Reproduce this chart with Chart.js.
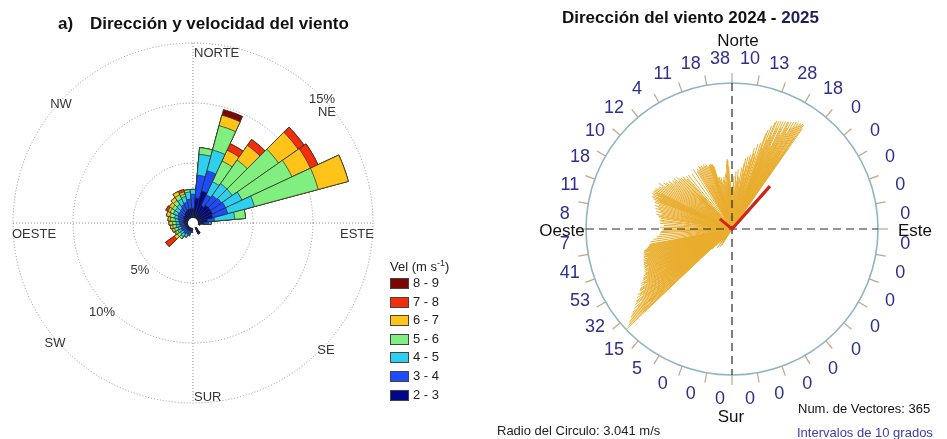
<!DOCTYPE html>
<html>
<head>
<meta charset="utf-8">
<script src="https://cdn.jsdelivr.net/npm/chart.js@4.4.1/dist/chart.umd.min.js"></script>
<style>
  body { margin: 0; background: #fff; font-family: "Liberation Sans", Arial, sans-serif; }
  #wrap { position: relative; width: 947px; height: 439px; overflow: hidden; }
  canvas { position: absolute; }
  #roseCanvas { left: 0; top: 0; }
  #vecCanvas { left: 475px; top: 0; }
  .txt { position: absolute; white-space: nowrap; line-height: 20px; }
  .ttl { font-weight: bold; font-size: 17px; color: #111; }
  .small { font-size: 13px; line-height: 15px; color: #222; }
  #legend { position: absolute; left: 390px; top: 258px; font-size: 13px; color: #222; }
  #legend .row { position: absolute; left: 0; white-space: nowrap; }
  #legend .box { position: absolute; left: 0; width: 17px; height: 9px; border: 1px solid #444; }
  #legend .lab { position: absolute; left: 23px; top: -3px; }
</style>
</head>
<body>
<div id="wrap">
  <canvas id="roseCanvas" width="475" height="439"></canvas>
  <canvas id="vecCanvas" width="472" height="439"></canvas>

  <div class="txt ttl" style="left:58px; top:14px;">a)</div>
  <div class="txt ttl" style="left:90px; top:14px;">Dirección y velocidad del viento</div>
  <div class="txt ttl" style="left:562px; top:8px;">Dirección del viento 2024 - <span style="color:#1d1d5e">2025</span></div>

  <div id="legend"><div style="position:absolute; left:0; top:0; white-space:nowrap;">Vel (m s<sup style="font-size:9px">-1</sup>)</div></div>

  <div class="txt small" style="left:497px; top:423px;">Radio del Circulo: 3.041 m/s</div>
  <div class="txt small" style="left:798px; top:401px; color:#111;">Num. de Vectores: 365</div>
  <div class="txt small" style="left:797px; top:425px; color:#3b3bab;">Intervalos de 10 grados</div>
</div>

<script>
// ---------- left: wind rose (frequency % by direction and speed class) ----------
const sectorAngles = [0, 10, 20, 30, 40, 50, 60, 70, 80, 90, 100, 110, 120, 130, 140, 150, 160, 170,
                      180, 190, 200, 210, 220, 230, 240, 250, 260, 270, 280, 290, 300, 310, 320, 330, 340, 350];
const speedClasses = ['2 - 3', '3 - 4', '4 - 5', '5 - 6', '6 - 7', '7 - 8', '8 - 9'];
const classColors = ['#00078a', '#1e4bff', '#2fcff0', '#80ef80', '#ffc31a', '#f42d0c', '#7c0600'];

const freq23 = [1.2, 2.1, 2.75, 1.6, 1.8, 1.8, 1.8, 1.7, 1.2, 0.9, 0.6, 0.3, 0.3, 0.3, 0.3, 1.0, 0.3, 0.3,
                0.3, 0.6, 0.7, 0.7, 0.7, 0.7, 0.7, 0.6, 0.7, 0.7, 0.8, 0.8, 0.9, 0.9, 1.0, 1.1, 1.2, 1.2];
const freq34 = [1.2, 1.9, 1.75, 1.0, 1.0, 1.1, 1.2, 1.3, 0.6, 0.4, 0, 0, 0, 0, 0, 0, 0, 0,
                0, 0.2, 0.3, 0.3, 0.4, 0.3, 0.4, 0.4, 0.4, 0.4, 0.4, 0.5, 0.5, 0.5, 0.5, 0.6, 0.6, 0.8];
const freq45 = [0.4, 1.75, 1.8, 1.2, 1.2, 1.1, 1.5, 2.3, 1.7, 0.2, 0, 0, 0, 0, 0, 0, 0, 0,
                0, 0, 0.1, 0.3, 0.3, 0.3, 0.3, 0.3, 0.3, 0.3, 0.3, 0.3, 0.4, 0.4, 0.4, 0.5, 0.5, 0.6];
const freq56 = [0, 0.55, 2.1, 1.9, 2.4, 4.7, 4.6, 5.5, 0.9, 0, 0, 0, 0, 0, 0, 0, 0, 0,
                0, 0, 0, 0, 0.2, 0.3, 0.2, 0.3, 0.3, 0.3, 0.4, 0.4, 0.3, 0.3, 0.4, 0.4, 0.2, 0.2];
const freq67 = [0, 0, 0.9, 1.0, 1.5, 2.0, 1.7, 2.6, 0, 0, 0, 0, 0, 0, 0, 0, 0, 0,
                0, 0, 0, 0, 0, 0.3, 0.1, 0.2, 0.2, 0.3, 0.2, 0.3, 0.2, 0.3, 0.3, 0.3, 0.2, 0];
const freq78 = [0, 0, 0, 0.6, 0.6, 0.6, 0.7, 0, 0, 0, 0, 0, 0, 0, 0, 0, 0, 0,
                0, 0, 0, 0, 0, 0.9, 0, 0, 0, 0, 0, 0, 0.2, 0, 0, 0, 0.2, 0];
const freq89 = [0, 0, 0.5, 0, 0, 0, 0, 0, 0, 0, 0, 0, 0, 0, 0, 0, 0, 0,
                0, 0, 0, 0, 0, 0, 0, 0, 0, 0, 0, 0, 0, 0, 0, 0, 0, 0];
const freqByClass = [freq23, freq34, freq45, freq56, freq67, freq78, freq89];
const ringLabels = ['5%', '10%', '15%'];

// ---------- right: daily wind vectors [direction deg, speed m/s] ----------
const circleRadius = 3.041;
const sectorCounts = [10, 13, 28, 18, 0, 0, 0, 0, 0, 0, 0, 0, 0, 0, 0, 0, 0, 0,
                      0, 0, 0, 5, 15, 32, 53, 41, 7, 8, 11, 18, 10, 12, 4, 11, 18, 38];
const vecNE = [[1,0.9],[2,1.1],[3,0.8],[4,1.2],[5,1.0],[6,1.25],[7,1.1],[8,1.07],[9,1.3],[9.5,0.9],
  [10.5,1.4],[11,1.5],[12,1.2],[12.5,1.55],[13,1.35],[14,1.6],[15,1.5],[15.5,1.75],[16,1.65],[17,1.85],[17.5,1.6],[18.5,1.9],[19.5,2.1],
  [20,2.2],[20.5,1.8],[21,2.3],[21.5,2.0],[22,2.4],[22.5,2.44],[23,2.1],[23.5,2.45],[24,2.3],[24.5,2.47],[25,1.9],[25.5,2.48],[26,2.35],[26.5,2.5],
  [27,2.2],[27.5,2.51],[28,2.53],[28.5,2.4],[29,2.55],[29.5,2.3],[20.8,1.5],[22.8,1.7],[24.2,1.6],[26.2,1.8],[27.8,2.0],[29.2,1.7],[21.7,1.2],[25.3,1.4],
  [30,2.57],[30.5,2.45],[31,2.6],[31.5,2.5],[32,2.61],[32.5,2.55],[33,2.62],[33.5,2.6],[34,2.64],[34.5,2.63],[35,2.55],
  [30.2,2.1],[31.2,1.9],[32.2,2.2],[33.2,1.8],[34.2,2.3],[34.8,2.0],[33.8,1.5]];
const vecN = [[340,1.38],[340.5,1.42],[341,1.4],[341.5,1.43],[342,1.42],[342.5,1.4],[343,1.41],[343.5,1.38],[344,1.35],[345,1.1],
  [346,1.12],[347,1.05],[348,1.1],[349,0.95],[344.5,0.9],[346.5,0.7],[348.5,0.6],[340.8,1.0],
  [350,1.05],[350.5,0.8],[351,1.1],[351.5,0.7],[352,1.0],[352.5,0.9],[353,1.15],[353.5,0.6],[354,1.2],[354.5,0.95],[355,1.35],
  [355.5,1.42],[356,1.46],[356.5,1.44],[357,1.3],[357.5,0.9],[358,1.0],[358.5,0.7],[359,0.85],[359.5,0.6],
  [350.2,0.5],[352.2,0.55],[354.2,0.45],[356.2,0.9],[358.2,0.4],[359.8,0.5]];
const vecNW = [[330,1.45],[331,1.4],[332,1.48],[333,1.44],[334,1.46],[335,1.42],[336,1.47],[337,1.43],[338,1.45],[339,1.4],[335.5,1.0],
  [321,1.45],[324,1.42],[327,1.48],[329,1.4],
  [310,1.55],[311,1.6],[312,1.5],[313,1.58],[314,1.52],[315,1.5],[316,1.45],[317,1.5],[318,1.4],[319,1.45],[312.5,1.1],[316.5,0.9],
  [300,1.75],[301,1.7],[302,1.8],[303,1.65],[304,1.72],[305,1.68],[306,1.6],[307,1.65],[308,1.55],[309,1.6],
  [290,1.7],[290.5,1.6],[291,1.75],[291.5,1.65],[292,1.8],[292.5,1.7],[293,1.78],[293.5,1.6],[294,1.82],[294.5,1.7],
  [295,1.8],[295.5,1.75],[296,1.82],[296.5,1.65],[297,1.8],[298,1.8],[299,1.75],[293.2,1.2],
  [280,1.55],[281,1.6],[282,1.5],[283,1.62],[284,1.55],[285,1.65],[286,1.6],[287,1.68],[288,1.6],[289,1.7],[284.5,1.1]];
const vecW = [[270,1.45],[271.5,1.5],[273,1.42],[274.5,1.5],[276,1.48],[277,1.52],[278.5,1.5],[279.5,1.55],
  [261,1.72],[262.5,1.65],[264,1.58],[265.5,1.52],[267,1.5],[268,1.48],[269,1.45]];
const vecSW = [[250,1.96],[250.5,1.9],[251,1.95],[251.5,1.85],[252,1.93],[252.5,1.92],[253,1.88],[253.5,1.92],[254,1.91],[254.5,1.8],
  [255,1.9],[255.5,1.88],[256,1.89],[256.5,1.85],[257,1.82],[257.5,1.8],[258,1.78],[258.5,1.76],[259,1.75],[259.5,1.74],
  [251.2,1.4],[253.2,1.5],[255.2,1.3],[257.2,1.45],[259.2,1.2],
  [240,2.15],[240.5,2.1],[241,2.12],[241.5,2.0],[242,2.08],[242.5,2.04],[243,2.03],[243.5,1.95],[244,2.03],[244.5,1.98],
  [245,2.01],[245.5,1.9],[246,2.0],[246.5,1.97],[247,1.99],[247.5,1.92],[248,1.98],[248.5,1.96],[249,1.97],[249.5,1.9],
  [240.2,1.6],[241.2,1.8],[242.2,1.5],[243.2,1.7],[244.2,1.4],[245.2,1.75],[246.2,1.55],[247.2,1.3],[248.2,1.65],[249.2,1.45],
  [230,2.7],[230.5,2.55],[231,2.62],[231.5,2.4],[232,2.55],[232.5,2.5],[233,2.5],[233.5,2.3],[234,2.45],[234.5,2.35],
  [235,2.39],[235.5,2.2],[236,2.32],[236.5,2.3],[237,2.28],[237.5,2.1],[238,2.23],[238.5,2.15],[239,2.2],[239.5,2.05],
  [230.2,2.2],[231.2,2.0],[232.2,2.3],[233.2,1.9],[234.2,2.1],[235.2,1.8],[236.2,2.0],[237.2,1.7],[238.2,1.9],[239.2,1.6],[233.7,1.5],[236.7,1.4],
  [226.5,3.02],[227,2.95],[227.5,2.9],[228,2.88],[228.5,2.8],[229,2.8],[229.5,2.75],[226.8,2.5],[227.8,2.6],[228.8,2.3],[229.2,2.5],
  [224,0.5],[222,0.4],[225,0.6],[221,0.35],
  [212,0.4],[214,0.45],[216,0.35],[218,0.5],[219,0.42]];
const resultantPath = [[310, 0.33], [0, 0], [41.5, 1.19]];

const FONT = '"Liberation Sans", Arial, sans-serif';

// ---------- legend (html) ----------
const legendEl = document.getElementById('legend');
speedClasses.slice().reverse().forEach((name, i) => {
  const row = document.createElement('div');
  row.className = 'row';
  row.style.top = (20 + i * 18.6) + 'px';
  const col = classColors[speedClasses.length - 1 - i];
  row.innerHTML = '<div class="box" style="background:' + col + '"></div><div class="lab">' + name + '</div>';
  legendEl.appendChild(row);
});

// ---------- left chart ----------
let running = sectorAngles.map(() => 0);
const roseSets = freqByClass.map((f, i) => {
  running = running.map((v, k) => +(v + f[k]).toFixed(2));
  return {
    label: speedClasses[i],
    data: running,
    backgroundColor: classColors[i],
    borderColor: 'rgba(40,48,30,0.9)',
    borderWidth: 0.8
  };
});

const roseDecor = {
  id: 'roseDecor',
  beforeDatasetsDraw(chart) {
    const s = chart.scales.r, ctx = chart.ctx, R = s.drawingArea;
    ctx.save();
    ctx.strokeStyle = '#8f8f8f';
    ctx.lineWidth = 1;
    ctx.setLineDash([1, 2]);
    ctx.beginPath();
    ctx.moveTo(s.xCenter, s.yCenter - R); ctx.lineTo(s.xCenter, s.yCenter + R);
    ctx.moveTo(s.xCenter - R, s.yCenter); ctx.lineTo(s.xCenter + R, s.yCenter);
    ctx.stroke();
    ctx.restore();
  },
  afterDatasetsDraw(chart) {
    const s = chart.scales.r, ctx = chart.ctx;
    ctx.save();
    ctx.fillStyle = '#fff';
    ctx.beginPath();
    ctx.arc(s.xCenter, s.yCenter, s.getDistanceFromCenterForValue(0.42), 0, Math.PI * 2);
    ctx.fill();
    ctx.restore();
  },
  afterDraw(chart) {
    const s = chart.scales.r, ctx = chart.ctx;
    const cx = s.xCenter, cy = s.yCenter;
    ctx.save();
    ctx.fillStyle = '#333';
    ctx.font = '13px ' + FONT;
    ctx.textBaseline = 'middle';
    ctx.textAlign = 'left';
    ctx.fillText('NORTE', cx + 1, cy - 170);
    ctx.fillText('SUR', cx + 1, cy + 174);
    ctx.fillText('OESTE', cx - 181, cy + 11);
    ctx.fillText('ESTE', cx + 147, cy + 11);
    ctx.textAlign = 'center';
    ctx.fillText('NW', cx - 132, cy - 119);
    ctx.fillText('NE', cx + 134, cy - 111);
    ctx.fillText('SW', cx - 138, cy + 120);
    ctx.fillText('SE', cx + 133, cy + 127);
    ctx.fillText(ringLabels[0], cx - 53, cy + 47);
    ctx.fillText(ringLabels[1], cx - 91, cy + 89);
    ctx.fillText(ringLabels[2], cx + 129, cy - 124);
    ctx.restore();
  }
};

new Chart(document.getElementById('roseCanvas'), {
  type: 'polarArea',
  data: { labels: sectorAngles.map(a => a + '°'), datasets: roseSets },
  options: {
    responsive: false,
    animation: false,
    layout: { padding: { left: 13, top: 43, right: 102, bottom: 36 } },
    plugins: { legend: { display: false }, tooltip: { enabled: false } },
    scales: {
      r: {
        min: 0, max: 15,
        startAngle: -5,
        ticks: { display: false, stepSize: 5 },
        grid: { color: '#8f8f8f', lineWidth: 1, circular: true },
        border: { dash: [1, 2] },
        angleLines: { display: false },
        pointLabels: { display: false }
      }
    }
  },
  plugins: [roseDecor]
});

// ---------- right chart ----------
function toXY(dir, spd) {
  const a = dir * Math.PI / 180;
  return { x: spd * Math.sin(a), y: spd * Math.cos(a) };
}
function spokes(list) {
  const pts = [];
  list.forEach(([d, s]) => { pts.push({ x: 0, y: 0 }, toXY(d, s), { x: 0, y: null }); });
  return pts;
}
const gold = 'rgb(233,173,46)';
const vecGroups = [vecSW, vecW, vecNW, vecN, vecNE];
const vecSets = vecGroups.map(g => ({
  data: spokes(g), showLine: true, borderColor: gold, borderWidth: 1, pointRadius: 0, spanGaps: false
}));
vecSets.push({
  data: resultantPath.map(([d, s]) => toXY(d, s)),
  showLine: true, borderColor: '#d3261a', borderWidth: 3, pointRadius: 0, borderCapStyle: 'butt'
});

const halfSpan = 195; // px from centre to chart edge
const lim = circleRadius * halfSpan / 146;

const vecDecor = {
  id: 'vecDecor',
  beforeDatasetsDraw(chart) {
    const x = chart.scales.x, y = chart.scales.y, ctx = chart.ctx;
    const cx = x.getPixelForValue(0), cy = y.getPixelForValue(0);
    const R = x.getPixelForValue(circleRadius) - cx;
    ctx.save();
    ctx.strokeStyle = '#c6a482';
    ctx.lineWidth = 1.2;
    for (let a = 0; a < 360; a += 10) {
      const r = a * Math.PI / 180;
      ctx.beginPath();
      ctx.moveTo(cx + R * Math.sin(r), cy - R * Math.cos(r));
      ctx.lineTo(cx + (R + 10) * Math.sin(r), cy - (R + 10) * Math.cos(r));
      ctx.stroke();
    }
    ctx.strokeStyle = '#8fb4c3';
    ctx.lineWidth = 1.6;
    ctx.beginPath();
    ctx.arc(cx, cy, R, 0, Math.PI * 2);
    ctx.stroke();
    ctx.restore();
  },
  afterDatasetsDraw(chart) {
    const x = chart.scales.x, y = chart.scales.y, ctx = chart.ctx;
    const cx = x.getPixelForValue(0), cy = y.getPixelForValue(0);
    const R = x.getPixelForValue(circleRadius) - cx;
    ctx.save();
    ctx.strokeStyle = '#2a2a2a';
    ctx.lineWidth = 1.2;
    ctx.setLineDash([8, 5]);
    ctx.beginPath();
    ctx.moveTo(cx, cy - R); ctx.lineTo(cx, cy + R);
    ctx.moveTo(cx - R, cy); ctx.lineTo(cx + R, cy);
    ctx.stroke();
    ctx.restore();
    // resultant on top of the crosshair
    chart.getDatasetMeta(chart.data.datasets.length - 1).controller.draw();

    ctx.save();
    ctx.textAlign = 'center';
    ctx.textBaseline = 'middle';
    ctx.font = '18px ' + FONT;
    ctx.fillStyle = '#2f2f8c';
    sectorCounts.forEach((n, k) => {
      const a = (10 * k + 5) * Math.PI / 180;
      ctx.fillText(String(n), cx + 171 * Math.sin(a) + 3, cy - 171 * Math.cos(a));
    });
    ctx.font = '17px ' + FONT;
    ctx.fillStyle = '#111';
    ctx.fillText('Norte', cx + 6, cy - 188);
    ctx.fillText('Sur', cx - 1, cy + 188);
    ctx.fillText('Oeste', cx - 170, cy + 2);
    ctx.fillText('Este', cx + 183, cy + 2);
    ctx.restore();
  }
};

new Chart(document.getElementById('vecCanvas'), {
  type: 'scatter',
  data: { datasets: vecSets },
  options: {
    responsive: false,
    animation: false,
    layout: { padding: { left: 62, top: 34, right: 20, bottom: 15 } },
    plugins: { legend: { display: false }, tooltip: { enabled: false } },
    scales: {
      x: { type: 'linear', min: -lim, max: lim, display: false },
      y: { type: 'linear', min: -lim, max: lim, display: false }
    }
  },
  plugins: [vecDecor]
});
</script>
</body>
</html>
